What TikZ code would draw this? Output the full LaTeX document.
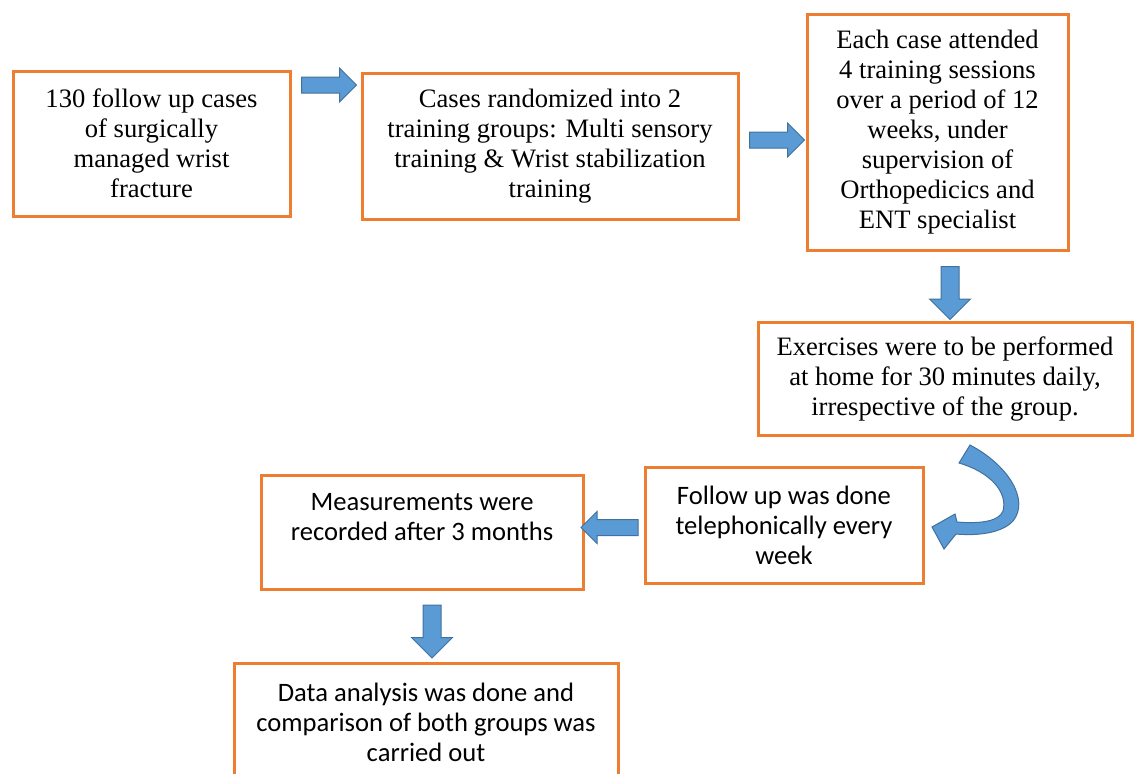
\documentclass[tikz,border=0pt]{standalone}
\usepackage{fontspec}
\setmainfont{Liberation Serif}
\newfontfamily\calibri{Carlito}
\usetikzlibrary{shapes.arrows,positioning,calc}

\definecolor{boxorange}{RGB}{237,125,49}
\definecolor{arrowblue}{RGB}{91,155,213}
\definecolor{arrowline}{RGB}{65,113,156}

\begin{document}
\begin{tikzpicture}[
    x=0.5pt, y=-0.5pt,
    phase/.style = {rectangle, draw=boxorange, line width=1.5pt, fill=white, align=center, inner sep=0pt, font=\fontsize{13.3}{15}\selectfont},
    phasesans/.style = {phase, font=\calibri\fontsize{13.3}{15}\selectfont},
    blockarrow/.style = {shape=single arrow, draw=arrowline, line width=0.5pt, fill=arrowblue, inner xsep=0pt, single arrow head indent=0pt},
    harrow/.style = {blockarrow, inner ysep=3.75pt, single arrow head extend=4.5pt, minimum height=27.5pt},
    varrow/.style = {blockarrow, inner ysep=4.25pt, single arrow head extend=5.75pt, minimum height=26.5pt, rotate=-90}
]
    \useasboundingbox (0,0) rectangle (1134,773);
    \clip (0,0) rectangle (1134,773);
    % Boxes, top row then down the right side
    \node[phase, minimum width=138.5pt, minimum height=72.5pt] (cases) at (151.5,143.5) {130 follow up cases\\of surgically\\managed wrist\\fracture};
    \node[phase, minimum width=188pt, minimum height=73pt] (random) at (550,146) {Cases randomized into 2\\training groups: Multi sensory\\training \& Wrist stabilization\\training};
    \node[phase, minimum width=130.5pt, minimum height=118pt] (sessions) at (937.5,132) {Each case attended\\4 training sessions\\over a period of 12\\weeks, under\\supervision of\\Orthopedicics and\\ENT specialist};
    \node[phase, minimum width=187pt, minimum height=56.5pt] (home) at (945,378.5) {Exercises were to be performed\\at home for 30 minutes daily,\\irrespective of the group.};
    \node[phasesans, minimum width=139pt, minimum height=58pt] (followup) at (784,525) {Follow up was done\\telephonically every\\week};
    \node[phasesans, minimum width=161pt, minimum height=57pt, text depth=15pt] (measure) at (422,532) {Measurements were\\recorded after 3 months};
    \node[phasesans, minimum width=192pt, minimum height=59pt] (analysis) at (426,722) {Data analysis was done and\\comparison of both groups was\\carried out};
    % Block arrows
    \node[harrow] (a1) at (325,85) {};
    \node[harrow] (a2) at (773,140) {};
    \node[varrow] (a3) at (950,288.5) {};
    \node[harrow, rotate=180, minimum height=28.5pt, single arrow head extend=4pt] (a4) at (613.5,527.5) {};
    \node[varrow] (a5) at (432,627) {};
    % Curved arrow from home to followup
    \filldraw[draw=arrowline, line width=0.5pt, fill=arrowblue]
        (970,445) .. controls (1008,465) and (1030,500) .. (1013,521)
        .. controls (1002,533) and (978,536) .. (956,534)
        -- (944,549) -- (932,527) -- (955,514) -- (957,522)
        .. controls (982,524) and (999,521) .. (1003,511)
        .. controls (1008,492) and (990,472) .. (959,463) -- cycle;
\end{tikzpicture}
\end{document}
